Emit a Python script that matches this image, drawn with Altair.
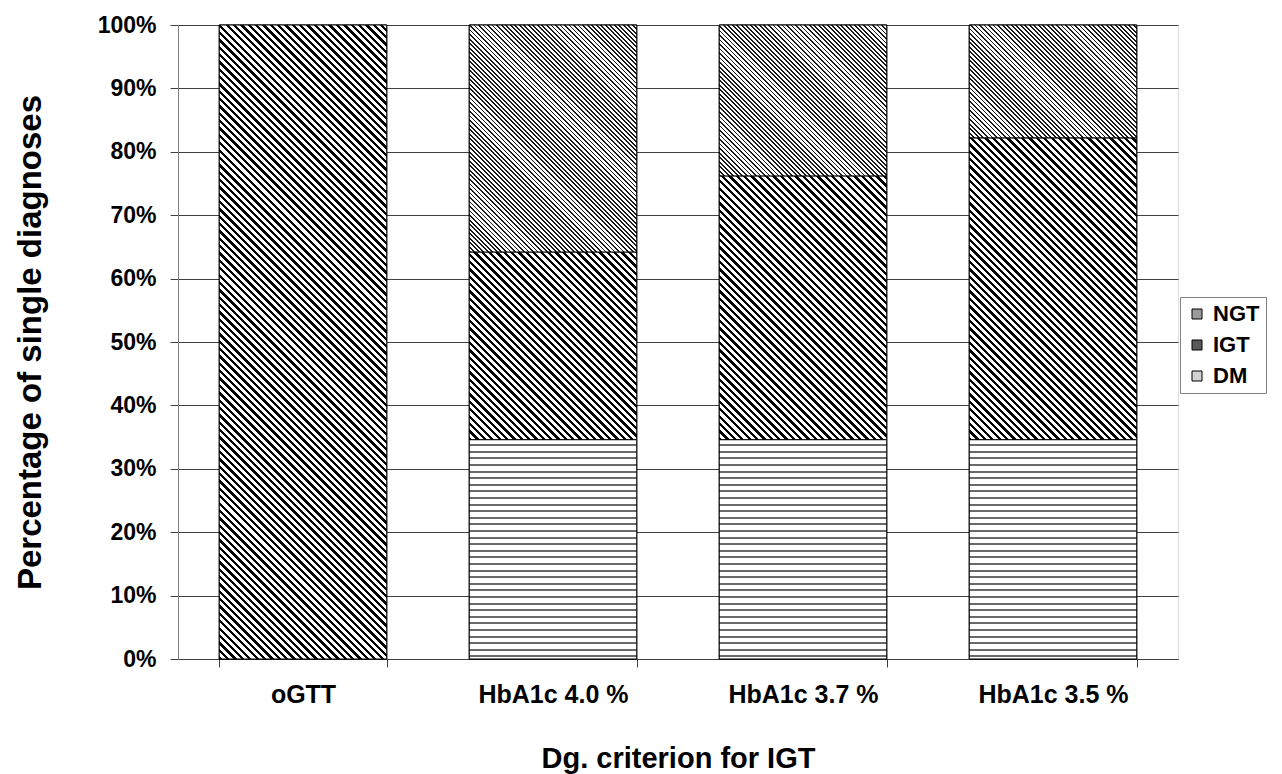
import math
import altair as alt
import pandas as pd

# ---- data ----
categories = ["oGTT", "HbA1c 4.0 %", "HbA1c 3.7 %", "HbA1c 3.5 %"]
dm_values = [0.0, 34.6, 34.6, 34.6]
igt_values = [100.0, 29.6, 41.6, 47.6]
ngt_values = [0.0, 35.8, 23.8, 17.8]
series_order = ["NGT", "IGT", "DM"]
legend_colors = ["#9a9a9a", "#5a5a5a", "#d2d2d2"]
y_ticks = [0, 10, 20, 30, 40, 50, 60, 70, 80, 90, 100]

# ---- layout ----
W, H = 1000, 634
PAD_INNER = 0.33
PAD_OUTER = 0.165
FONT = "Liberation Sans"

rows = []
for i, cat in enumerate(categories):
    start = 0.0
    for name, vals in (("DM", dm_values), ("IGT", igt_values), ("NGT", ngt_values)):
        v = vals[i]
        rows.append({"cat": cat, "series": name, "value": v, "start": start, "end": start + v})
        start += v
df = pd.DataFrame(rows)

step = W / (len(categories) - PAD_INNER + 2 * PAD_OUTER)
band_w = step * (1 - PAD_INNER)


def r4(v):
    return round(v, 5)


def diag_gradient(w, h, period, duty, color, bg="white"):
    """Stripes running '\\' at 45 degrees in pixel space, in bbox units."""
    L = (w + h) / math.sqrt(2)
    k = (w + h) / (w * w + h * h)
    stops = []
    n = int(L / period) + 2
    for i in range(n):
        a = min(i * period / L, 1)
        b = min((i + duty) * period / L, 1)
        c = min((i + 1) * period / L, 1)
        stops += [
            {"offset": r4(a), "color": color},
            {"offset": r4(b), "color": color},
            {"offset": r4(b), "color": bg},
            {"offset": r4(c), "color": bg},
        ]
        if c >= 1:
            break
    return {"gradient": "linear", "x1": 0, "y1": 1, "x2": r4(k * w), "y2": r4(1 - k * h), "stops": stops}


def horiz_gradient(h, period, thick, color, bg="white"):
    stops = []
    n = int(h / period) + 2
    for i in range(n):
        a = min(i * period / h, 1)
        m = min((i * period + (period - thick)) / h, 1)
        c = min((i + 1) * period / h, 1)
        stops += [
            {"offset": r4(a), "color": bg},
            {"offset": r4(m), "color": bg},
            {"offset": r4(m), "color": color},
            {"offset": r4(c), "color": color},
        ]
        if c >= 1:
            break
    return {"gradient": "linear", "x1": 0, "y1": 0, "x2": 0, "y2": 1, "stops": stops}


x_enc = alt.X(
    "cat:N",
    sort=categories,
    scale=alt.Scale(paddingInner=PAD_INNER, paddingOuter=PAD_OUTER),
    axis=alt.Axis(
        title="Dg. criterion for IGT",
        labelAngle=0,
        labelFont=FONT, labelFontSize=25, labelFontWeight="bold", labelColor="black",
        labelPadding=15, labelBaseline="top",
        tickBand="extent", tickSize=8, tickColor="#404040",
        domainColor="#404040",
        titleFont=FONT, titleFontSize=29, titleFontWeight="bold", titleColor="black",
        titleX=W / 2, titleY=99, titleBaseline="middle",
    ),
)
y_axis = alt.Axis(
    title="Percentage of single diagnoses",
    values=y_ticks,
    labelExpr="datum.value + '%'",
    labelFont=FONT, labelFontSize=23, labelFontWeight="bold", labelColor="black",
    labelPadding=14,
    tickSize=8, tickColor="#404040",
    domainColor="#808080",
    gridColor="#404040", gridWidth=1,
    titleFont=FONT, titleFontSize=33, titleFontWeight="bold", titleColor="black",
    titleX=-148, titleY=H / 2, titleBaseline="middle", titleAngle=-90,
)
y_enc = alt.Y("start:Q", scale=alt.Scale(domain=[0, 100], nice=False), axis=y_axis)

base = alt.Chart(df).transform_filter("datum.value > 0").mark_bar(
    stroke="black", strokeWidth=1
).encode(
    x=x_enc,
    y=y_enc,
    y2="end:Q",
    color=alt.Color(
        "series:N",
        scale=alt.Scale(domain=series_order, range=legend_colors),
        legend=alt.Legend(
            title=None, orient="none", legendX=1002, legendY=272,
            symbolType="square", symbolSize=100,
            symbolStrokeColor="black", symbolStrokeWidth=1,
            labelFont=FONT, labelFontSize=22, labelFontWeight="bold", labelColor="black",
            labelOffset=5, rowPadding=9, padding=6,
            strokeColor="#808080", fillColor="white",
        ),
    ),
)

layers = [base]
for _, r in df.iterrows():
    if r["value"] <= 0:
        continue
    h = r["value"] * H / 100.0
    if r["series"] == "IGT":
        grad = diag_gradient(band_w, h, 5.2, 0.45, "black")
    elif r["series"] == "NGT":
        grad = diag_gradient(band_w, h, 3.2, 0.4, "#1a1a1a")
    else:
        grad = horiz_gradient(h, 6.6, 2.0, "#6a6a6a")
    layer = (
        alt.Chart(df)
        .transform_filter(
            alt.FieldEqualPredicate(field="cat", equal=r["cat"])
        )
        .transform_filter(
            alt.FieldEqualPredicate(field="series", equal=r["series"])
        )
        .mark_bar(fill=grad, stroke="black", strokeWidth=1)
        .encode(x=alt.X("cat:N", sort=categories), y="start:Q", y2="end:Q")
    )
    layers.append(layer)

chart = (
    alt.layer(*layers)
    .properties(
        width=W,
        height=H,
        autosize=alt.AutoSizeParams(type="none"),
        padding={"left": 170, "top": 17, "right": 96, "bottom": 115},
    )
    .configure_view(stroke="#808080", strokeWidth=1)
    .configure(background="white")
)

chart.save("out.html", embed_options={"renderer": "svg", "actions": False})
